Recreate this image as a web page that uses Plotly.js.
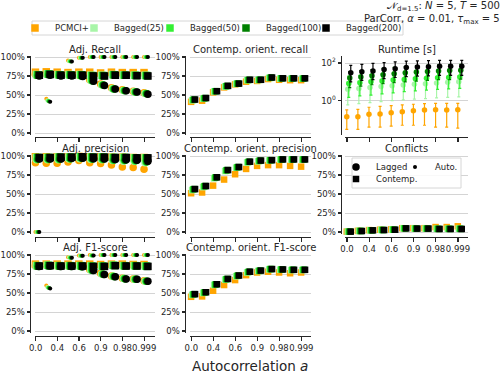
<!DOCTYPE html>
<html>
<head>
<meta charset="utf-8">
<script src="https://cdn.plot.ly/plotly-3.0.1.min.js"></script>
<style>html,body{margin:0;padding:0;background:#fff}#chart{width:503px;height:377px}</style>
</head>
<body>
<div id="chart"></div>
<script>
// x categories (autocorrelation a) and the labelled ones
const autocorr = ['0.0', '0.2', '0.4', '0.5', '0.6', '0.8', '0.9', '0.95', '0.98', '0.99', '0.999'];
const tickIdx = [0, 2, 4, 6, 8, 10];
const pctTicks = [0, 25, 50, 75, 100];
const pctLabels = ['0%', '25%', '50%', '75%', '100%'];
const methods = ['PCMCI+', 'Bagged(25)', 'Bagged(50)', 'Bagged(100)', 'Bagged(200)'];
const colors = ['#ffa500', '#a8f5a8', '#33f033', '#008000', '#000000'];

// one row per method, same order as methods
const adjRecallLagged = [
    [77, 78, 77, 77, 76, 70, 64.5, 59.5, 57, 55, 53],
    [76, 77, 76, 76, 75.5, 69, 63.5, 58.5, 56, 54.5, 52],
    [76, 77, 76, 76, 75, 69, 63, 58, 56, 54, 52],
    [75.5, 76.5, 75.5, 75.5, 75, 68.5, 63, 58, 55.5, 54, 51.5],
    [75, 76, 75, 75, 74.5, 68, 62.5, 58, 55.5, 54, 51]
];
const adjRecallContemp = [
    [80, 80.5, 80, 79.5, 80, 80, 79, 80, 79.5, 79.5, 79.5],
    [77, 78, 77, 77, 77, 76, 76, 77, 76.5, 76, 76],
    [76.5, 77.5, 76.5, 76.5, 76.5, 75.5, 75.5, 76.5, 76, 76, 75.5],
    [76.5, 77.5, 76.5, 76.5, 76.5, 75.5, 75.5, 76.5, 76, 75.5, 75.5],
    [76, 77, 76, 76, 76, 75, 75, 76, 76, 75.5, 75]
];
const adjRecallAuto = [
    [null, 45, 78, 95.5, 99, 100, 100, 100, 100, 100, 100],
    [null, 43, 77, 94.5, 99, 100, 100, 100, 100, 100, 100],
    [null, 42, 77, 94.5, 99, 100, 100, 100, 100, 100, 100],
    [null, 41.5, 76.5, 94, 99, 100, 100, 100, 100, 100, 100],
    [null, 41, 76, 94, 99, 100, 100, 100, 100, 100, 100]
];
const adjPrecLagged = [
    [91, 90.5, 90.5, 92, 94, 91, 90, 88, 85.5, 85, 82.5],
    [95, 95, 95, 96, 96.5, 95.5, 95, 94, 93, 93, 91],
    [95.5, 95.5, 95.5, 96.5, 97, 96, 95.5, 94.5, 94, 93.5, 92],
    [96, 96, 96, 96.5, 97, 96, 96, 95, 94.5, 94, 92.5],
    [96, 96, 96, 97, 97, 96.5, 96, 95.5, 95, 94.5, 93]
];
const adjPrecContemp = [
    [99, 99, 99, 99, 99.5, 99, 99, 98.5, 98.5, 98, 98],
    [98, 98, 98.5, 98.5, 99, 98.5, 98.5, 98, 98, 97.5, 97.5],
    [98, 98, 98.5, 98.5, 99, 98.5, 98.5, 98, 98, 97.5, 97.5],
    [98, 98, 98.5, 98.5, 99, 98.5, 98.5, 98, 98, 97.5, 97.5],
    [98, 98, 98.5, 98.5, 99, 98.5, 98.5, 98, 98, 97.5, 97.5]
];
const adjPrecAuto = [
    [0, 99, 100, 100, 100, 100, 100, 100, 100, 100, 100],
    [0, 99.5, 100, 100, 100, 100, 100, 100, 100, 100, 100],
    [0, 99.5, 100, 100, 100, 100, 100, 100, 100, 100, 100],
    [0, 99.5, 100, 100, 100, 100, 100, 100, 100, 100, 100],
    [0, 99.5, 100, 100, 100, 100, 100, 100, 100, 100, 100]
];
const adjF1Lagged = [
    [86, 86.5, 86, 86, 86, 81, 76, 72.5, 69.5, 68.5, 66],
    [85.5, 86, 85.5, 85.5, 85, 80, 75, 72, 69, 68, 65.5],
    [85.5, 86, 85.5, 85.5, 85, 80, 75, 72, 69, 68, 65.5],
    [85, 85.5, 85, 85, 84.5, 79.5, 74.5, 71.5, 68.5, 68, 65.5],
    [85, 85.5, 85, 85, 84.5, 79.5, 74.5, 71.5, 68.5, 68, 65.5]
];
const adjF1Contemp = [
    [88, 88, 88, 88, 88, 88, 87.5, 88, 88, 87.5, 87.5],
    [86, 86.5, 86, 86, 86, 85.5, 85.5, 86.5, 86, 86, 85.5],
    [86, 86.5, 86, 86, 86, 85.5, 85.5, 86.5, 86, 86, 85.5],
    [85.5, 86, 85.5, 85.5, 85.5, 85, 85, 86, 85.5, 85.5, 85],
    [85.5, 86, 85.5, 85.5, 85.5, 85, 85, 86, 85.5, 85.5, 85]
];
const adjF1Auto = [
    [null, 60, 87, 97, 99.5, 100, 100, 100, 100, 100, 100],
    [null, 58, 86.5, 97, 99, 99.5, 100, 100, 100, 100, 100],
    [null, 57, 86.5, 96.5, 99, 99.5, 100, 100, 100, 100, 100],
    [null, 56.5, 86, 96.5, 99, 99.5, 100, 100, 100, 100, 100],
    [null, 56, 86, 96.5, 99, 99.5, 100, 100, 100, 100, 100]
];
const orientRecall = [
    [41, 42.5, 53.5, 60, 64, 67.5, 68.5, 71, 70, 69.5, 69.5],
    [43, 45, 54.5, 61, 64.5, 69.5, 69.5, 72.5, 71.5, 71.5, 71.5],
    [43.5, 45.5, 55, 61.5, 65, 69.5, 70, 72.5, 72, 71.5, 71.5],
    [44, 46, 55, 62, 65, 70, 70, 73, 72, 72, 72],
    [44, 46, 55, 62, 65, 70, 70, 73, 72, 72, 72]
];
const orientPrec = [
    [51, 52, 61, 69, 76, 83, 87, 88, 88, 87, 86],
    [55, 59, 70.5, 80, 84.5, 91.5, 93, 94, 95, 95, 95],
    [56, 60, 71.5, 81, 85, 92, 93.5, 94.5, 95.5, 95.5, 95.5],
    [56.5, 60.5, 72, 81.5, 85.5, 92.5, 94, 94.5, 95.5, 95.5, 95.5],
    [56.5, 60.5, 72, 81.5, 85.5, 92.5, 94, 94.5, 95.5, 95.5, 95.5]
];
const orientF1 = [
    [45, 45.5, 53, 60.5, 67, 73.5, 77, 78, 77, 76, 77],
    [47.5, 50, 60.5, 67.5, 72, 77, 79, 81, 80.5, 80, 80],
    [48, 50.5, 61, 68, 72.5, 77.5, 79, 81.5, 81, 80.5, 80.5],
    [48.5, 51, 61.5, 68.5, 73, 78, 79.5, 81.5, 81, 80.5, 80.5],
    [48.5, 51, 61.5, 68.5, 73, 78, 79.5, 81.5, 81, 80.5, 80.5]
];
const conflicts = [
    [0.5, 1.5, 2.5, 3, 3.5, 5, 5, 5, 6.5, 6.5, 7.5],
    [0.5, 1.4, 2.3, 2.8, 3.2, 4.9, 4.6, 4.6, 4.3, 4.3, 4.5],
    [0.5, 1.4, 2.3, 2.7, 3.1, 4.8, 4.5, 4.5, 4.2, 4.2, 4.3],
    [0.5, 1.3, 2.2, 2.6, 3, 4.8, 4.5, 4.5, 4, 4, 4],
    [0.5, 1.3, 2.2, 2.6, 3, 4.8, 4.5, 4.5, 4, 4, 4]
];
// runtime in seconds: mean, lower and upper end of the bar
const runtime = [
    [0.14, 0.14, 0.19, 0.2, 0.23, 0.26, 0.29, 0.32, 0.33, 0.32, 0.33],
    [4, 4.5, 5, 5.6, 6.2, 6.8, 7.4, 8, 8.8, 9.4, 10],
    [8.2, 9, 10, 11, 12.5, 13.5, 14.5, 15.5, 16.5, 17, 18],
    [16, 18, 21, 24, 27, 30, 33, 35, 38, 40, 41],
    [30, 34, 38, 45, 50, 57, 62, 63, 67, 67, 67]
];
const runtimeLo = [
    [0.03, 0.03, 0.04, 0.04, 0.045, 0.05, 0.05, 0.05, 0.04, 0.04, 0.035],
    [0.6, 0.7, 0.8, 0.9, 1, 1.1, 1.2, 1.3, 1.4, 1.5, 1.6],
    [1.5, 1.8, 2, 2.3, 2.6, 3, 3.3, 3.6, 4, 4.2, 4.5],
    [5, 6, 7, 8, 9, 10, 11, 12, 13, 13, 14],
    [10, 12, 13, 15, 17, 19, 20, 21, 22, 22, 22]
];
const runtimeHi = [
    [0.33, 0.35, 0.45, 0.5, 0.55, 0.6, 0.65, 0.7, 0.72, 0.72, 0.73],
    [10, 11, 12, 13.5, 15, 16, 17, 18, 19, 20, 21],
    [20, 22, 24, 26, 28, 30, 32, 34, 36, 37, 38],
    [35, 40, 45, 52, 58, 64, 70, 75, 80, 82, 85],
    [75, 85, 95, 105, 115, 125, 130, 135, 138, 138, 138]
];

const W = 503, H = 377;
const ink = '#262626';
const font = 'DejaVu Sans, sans-serif';
const dodge = [-0.02, 0.07, 0.16, 0.25, 0.34];

// panel geometry in pixels
const cols = [
    { dom: [35, 155], range: [-0.06, 10.99], spine: 30 },
    { dom: [190, 311], range: [-0.12, 10.88], spine: 185 },
    { dom: [345, 468], range: [-0.18, 10.9], spine: 341 }
];
const rows = [
    { dom: [55.5, 134.5], spine: 137 },
    { dom: [154.5, 233.5], spine: 237 },
    { dom: [253.5, 332.5], spine: 336 }
];

const traces = [];
const layout = {
    width: W, height: H,
    margin: { l: 0, r: 0, t: 0, b: 0 },
    paper_bgcolor: '#fff', plot_bgcolor: 'rgba(0,0,0,0)',
    font: { family: font, size: 8.5, color: ink },
    showlegend: true,
    annotations: [], shapes: []
};

function addPanel(n, col, row, title, opts) {
    const c = cols[col], r = rows[row];
    const xs = n === 1 ? '' : String(n);
    layout['xaxis' + xs] = {
        domain: [c.dom[0] / W, c.dom[1] / W], range: c.range,
        anchor: 'free', position: 1 - r.spine / H, side: 'bottom',
        showline: true, linecolor: ink, linewidth: 1.3,
        ticks: 'outside', ticklen: 3.5, tickwidth: 1.2, tickcolor: ink,
        tickvals: tickIdx, ticktext: tickIdx.map(i => autocorr[i]), tickangle: 0,
        showticklabels: !!opts.xlabels, showgrid: false, zeroline: false,
        tickfont: { size: 8.5, color: ink }, fixedrange: true
    };
    const ya = {
        domain: [1 - r.dom[1] / H, 1 - r.dom[0] / H],
        anchor: 'free', position: c.spine / W, side: 'left',
        showline: true, linecolor: ink, linewidth: 1.3,
        ticks: 'outside', ticklen: 3.5, tickwidth: 1.2, tickcolor: ink,
        showgrid: true, gridcolor: '#d4d4d4', gridwidth: 1, zeroline: false,
        tickfont: { size: 8.5, color: ink }, fixedrange: true
    };
    if (opts.log) {
        Object.assign(ya, { type: 'log', range: [-1.793, 2.398], tickvals: [1, 100],
            ticktext: ['10<sup>0</sup>', '10<sup>2</sup>'] });
    } else {
        Object.assign(ya, { range: [-1.97, 101.97], tickvals: pctTicks, ticktext: pctLabels });
    }
    layout['yaxis' + xs] = ya;
    layout.annotations.push({
        text: title, xref: 'paper', yref: 'paper', showarrow: false,
        x: (c.dom[0] + c.dom[1]) / 2 / W, y: 1 - (r.dom[0] - 6.5) / H,
        xanchor: 'center', yanchor: 'middle', font: { size: 10, color: ink }
    });
    return { x: 'x' + xs, y: 'y' + xs };
}

function series(ax, vals, k, symbol, size, extra) {
    const t = {
        type: 'scatter', mode: 'markers', xaxis: ax.x, yaxis: ax.y,
        x: autocorr.map((a, i) => i + dodge[k]), y: vals,
        marker: { color: colors[k], symbol: symbol, size: size, line: { width: 0 } },
        cliponaxis: false, showlegend: false, hoverinfo: 'skip', name: methods[k]
    };
    Object.assign(t, extra || {});
    traces.push(t);
    return t;
}

// row 1
const p1 = addPanel(1, 0, 0, 'Adj. Recall', {});
const p2 = addPanel(2, 1, 0, 'Contemp. orient. recall', {});
const p3 = addPanel(3, 2, 0, 'Runtime [s]', { log: true });
// row 2
const p4 = addPanel(4, 0, 1, 'Adj. precision', {});
const p5 = addPanel(5, 1, 1, 'Contemp. orient. precision', {});
const p6 = addPanel(6, 2, 1, 'Conflicts', { xlabels: true });
// row 3
const p7 = addPanel(7, 0, 2, 'Adj. F1-score', { xlabels: true });
const p8 = addPanel(8, 1, 2, 'Contemp. orient. F1-score', { xlabels: true });

methods.forEach((m, k) => {
    const black = k === methods.length - 1;
    series(p1, adjRecallLagged[k], k, 'circle', 7.5,
        black ? { showlegend: true, legend: 'legend6', name: 'Lagged' } : null);
    series(p1, adjRecallContemp[k], k, 'square', 7.5,
        { showlegend: true, legend: k === 0 ? 'legend' : 'legend' + (k + 1) });
    series(p1, adjRecallAuto[k], k, 'circle', 4,
        black ? { showlegend: true, legend: 'legend7', name: 'Auto.' } : null);

    series(p2, orientRecall[k], k, 'square', 6.5);

    series(p3, runtime[k], k, 'circle', 5.5, {
        error_y: {
            type: 'data', symmetric: false,
            array: runtimeHi[k].map((v, i) => v - runtime[k][i]),
            arrayminus: runtime[k].map((v, i) => v - runtimeLo[k][i]),
            color: colors[k], thickness: 1.2, width: 1.5
        }
    });

    series(p4, adjPrecLagged[k], k, 'circle', 7.5);
    series(p4, adjPrecContemp[k], k, 'square', 7.5);
    series(p4, adjPrecAuto[k], k, 'circle', 4);

    series(p5, orientPrec[k], k, 'square', 6.5);

    series(p6, conflicts[k], k, 'square', 6.5,
        black ? { showlegend: true, legend: 'legend8', name: 'Contemp.' } : null);

    series(p7, adjF1Lagged[k], k, 'circle', 7.5);
    series(p7, adjF1Contemp[k], k, 'square', 7.5);
    series(p7, adjF1Auto[k], k, 'circle', 4);

    series(p8, orientF1[k], k, 'square', 6.5);
});

// legends: one per entry so the spacing follows the reference
// (Plotly puts the entry text 40px right of the legend's left edge)
function legendAt(id, tx, ty) {
    layout[id] = {
        x: (tx - 40) / W, y: 1 - ty / H, xanchor: 'left', yanchor: 'middle',
        orientation: 'v', bgcolor: 'rgba(0,0,0,0)', borderwidth: 0, itemwidth: 30,
        font: { size: 8.5, color: ink, family: font }
    };
}
const legendTextX = [55, 114, 190, 266, 346];
legendTextX.forEach((tx, k) => legendAt(k === 0 ? 'legend' : 'legend' + (k + 1), tx, 28));
legendAt('legend6', 376, 167);
legendAt('legend7', 435, 167);
legendAt('legend8', 376, 179);

// legend frames
function frame(x0, y0, x1, y1) {
    layout.shapes.push({
        type: 'rect', xref: 'paper', yref: 'paper', layer: 'above',
        x0: x0 / W, x1: x1 / W, y0: 1 - y1 / H, y1: 1 - y0 / H,
        line: { color: '#d6d6d6', width: 1 }, fillcolor: 'rgba(255,255,255,0.85)'
    });
}
frame(32, 21, 403, 35);
frame(352, 158, 461, 188);

// figure texts
function note(text, x, y, size, xanchor) {
    layout.annotations.push({
        text: text, xref: 'paper', yref: 'paper', showarrow: false,
        x: x / W, y: 1 - y / H, xanchor: xanchor, yanchor: 'middle',
        font: { size: size, color: ink, family: font }
    });
}
note('Autocorrelation <i>a</i>', 250, 366, 13.5, 'center');
note('𝒩<sub>d=1.5</sub>: <i>N</i> = 5, <i>T</i> = 500', 502, 6.6, 10, 'right');
note('ParCorr, <i>α</i> = 0.01, <i>τ</i><sub>max</sub> = 5', 502, 19.4, 10, 'right');

Plotly.newPlot('chart', traces, layout, { staticPlot: true, displayModeBar: false });
</script>
</body>
</html>
